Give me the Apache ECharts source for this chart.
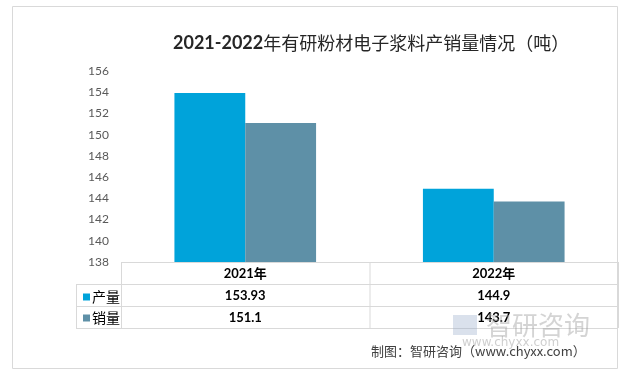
<!DOCTYPE html>
<html>
<head>
<meta charset="utf-8">
<script src="https://cdn.jsdelivr.net/npm/echarts@6/dist/echarts.min.js"></script>
<style>
  html, body { margin: 0; padding: 0; background: #fff; }
  #chart { width: 629px; height: 375px; }
</style>
</head>
<body>
<div id="chart"></div>
<script>
// data
const years = ["2021年", "2022年"];
const seriesNames = ["产量", "销量"];
const production = [153.93, 144.9];
const sales = [151.1, 143.7];
const yTicks = [138, 156, 2];

// layout (px)
const gridLeft = 121, gridRight = 618, gridTop = 71, gridBottom = 262;
const rowH = 22, tableLeft = 76;
const lineColor = "#D9D9D9";
const font = "Lato, 'Noto Sans CJK SC', sans-serif";

let chartDom = document.getElementById("chart");
let myChart = echarts.init(chartDom);

// table lines
let tableLines = [];
function hline(x1, x2, y) {
  tableLines.push({ type: "line", silent: true, shape: { x1: x1, y1: y + 0.5, x2: x2, y2: y + 0.5 }, style: { stroke: lineColor, lineWidth: 1 } });
}
function vline(x, y1, y2) {
  tableLines.push({ type: "line", silent: true, shape: { x1: x + 0.5, y1: y1, x2: x + 0.5, y2: y2 }, style: { stroke: lineColor, lineWidth: 1 } });
}
hline(gridLeft, gridRight, gridBottom);
for (let r = 1; r <= 3; r++) hline(tableLeft, gridRight, gridBottom + r * rowH);
vline(tableLeft, gridBottom + rowH, gridBottom + 3 * rowH);
let colW = (gridRight - gridLeft) / years.length;
for (let c = 0; c <= years.length; c++) vline(gridLeft + c * colW, gridBottom, gridBottom + 3 * rowH);

let option = {
  animation: false,
  color: ["#00A3DA", "#5E90A7"],
  textStyle: { fontFamily: font },
  title: {
    left: 168,
    top: 29,
    text: "{a|2021-2022}{b|年有研粉材电子浆料产销量情况（吨）}",
    textStyle: {
      rich: {
        a: { fontSize: 18, fontWeight: "bold", color: "#262626", fontFamily: font },
        b: { fontSize: 18, fontWeight: "normal", color: "#262626", fontFamily: "'Noto Sans CJK SC', sans-serif" }
      }
    }
  },
  legend: {
    orient: "vertical",
    left: 78,
    top: gridBottom + rowH + 1,
    itemGap: 7,
    itemWidth: 7,
    itemHeight: 7,
    icon: "rect",
    data: seriesNames,
    textStyle: { fontSize: 14, color: "#000", padding: [0, 0, 0, -3], fontFamily: "'Noto Sans CJK SC', sans-serif" }
  },
  grid: {
    left: gridLeft,
    right: 629 - gridRight,
    top: gridTop,
    bottom: 375 - gridBottom
  },
  xAxis: {
    type: "category",
    data: years,
    axisLine: { show: false },
    axisTick: { show: false },
    axisLabel: {
      margin: 1,
      interval: 0,
      color: "#000",
      fontSize: 13,
      fontWeight: "bold",
      lineHeight: rowH,
      formatter: function(value, idx) {
        return value + "\n" + production[idx] + "\n" + sales[idx];
      }
    }
  },
  yAxis: {
    type: "value",
    min: yTicks[0],
    max: yTicks[1],
    interval: yTicks[2],
    splitLine: { show: false },
    axisLine: { show: false },
    axisTick: { show: false },
    axisLabel: { color: "#595959", fontSize: 12, margin: 12 }
  },
  series: [
    { name: seriesNames[0], type: "bar", data: production, barGap: "0%", barCategoryGap: "43%" },
    { name: seriesNames[1], type: "bar", data: sales, barGap: "0%", barCategoryGap: "43%" }
  ],
  graphic: [
    {
      type: "rect", silent: true, z: -10,
      shape: { x: 12.5, y: 6.5, width: 605, height: 362 },
      style: { fill: "none", stroke: "#D9D9D9", lineWidth: 1 }
    },
    ...tableLines,
    {
      type: "text", silent: true, z: 1,
      left: 486, top: 312,
      style: { text: "智研咨询", fill: "rgba(160,160,160,0.45)", font: "26px 'Noto Sans CJK SC'", letterSpacing: 6 }
    },
    {
      type: "rect", silent: true, z: 1,
      shape: { x: 453, y: 315, width: 24, height: 20 },
      style: { fill: "rgba(150,170,200,0.35)" }
    },
    {
      type: "text", silent: true, z: 1,
      left: 462, top: 337,
      style: { text: "www.chyxx.com", fill: "rgba(160,160,160,0.5)", font: "12px 'DejaVu Sans'", letterSpacing: 5 }
    },
    {
      type: "text", silent: true, z: 2,
      left: 371, top: 345,
      style: { text: "制图：智研咨询（www.chyxx.com）", fill: "#404040", font: "13px 'Noto Sans CJK SC'" }
    }
  ]
};
myChart.setOption(option);
</script>
</body>
</html>
